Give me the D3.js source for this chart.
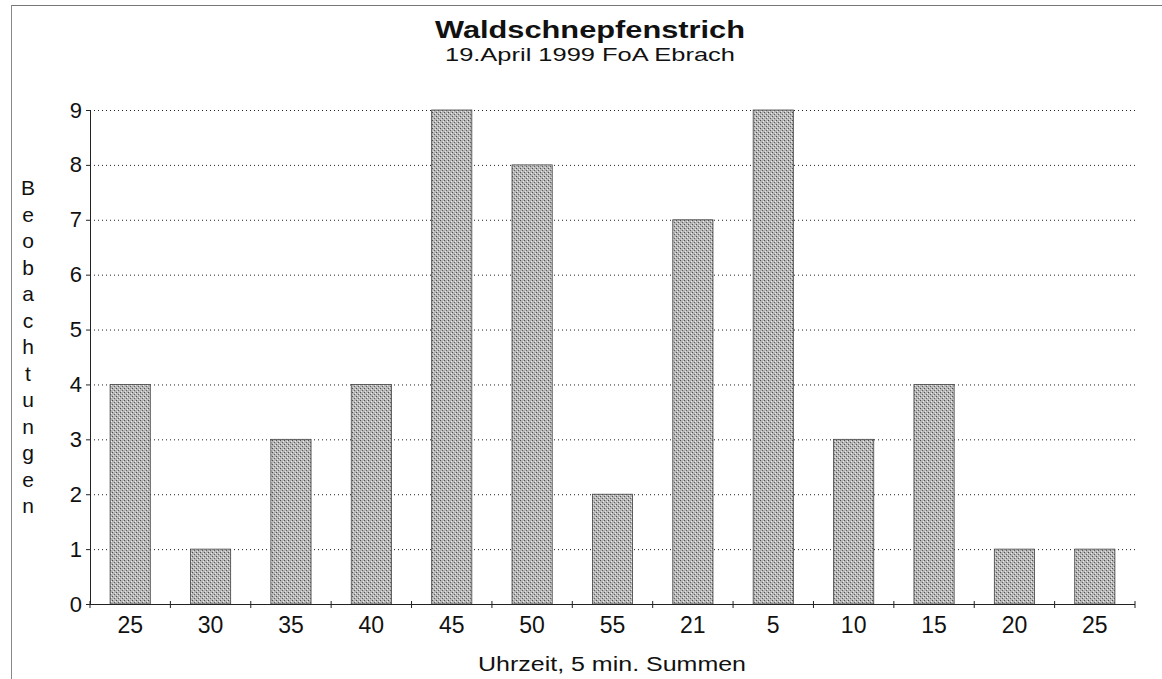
<!DOCTYPE html>
<html><head><meta charset="utf-8">
<script src="https://cdn.jsdelivr.net/npm/d3@7"></script>
<style>body{margin:0;background:#fff}svg{display:block}text{font-family:"Liberation Sans",Arial,sans-serif;fill:#111}</style>
</head><body>
<script>
const categories = ["25","30","35","40","45","50","55","21","5","10","15","20","25"];
const values = [4,1,3,4,9,8,2,7,9,3,4,1,1];
const yTicks = [0,1,2,3,4,5,6,7,8,9];
const title = "Waldschnepfenstrich";
const subtitle = "19.April 1999 FoA Ebrach";
const yLabel = "Beobachtungen";
const xLabel = "Uhrzeit, 5 min. Summen";

const W = 1162, H = 679;
const m = {left: 90, right: 27, top: 110, bottom: 75};
const svg = d3.select("body").append("svg").attr("width", W).attr("height", H);

const defs = svg.append("defs");
const pat = defs.append("pattern").attr("id","stip").attr("patternUnits","userSpaceOnUse").attr("width",4).attr("height",4);
pat.append("rect").attr("width",4).attr("height",4).attr("fill","#b5b5b5");
pat.append("rect").attr("x",0).attr("y",0).attr("width",1).attr("height",1).attr("fill","#505050");
pat.append("rect").attr("x",2).attr("y",2).attr("width",1).attr("height",1).attr("fill","#606060");
pat.append("rect").attr("x",3).attr("y",1).attr("width",1).attr("height",1).attr("fill","#eee");
pat.append("rect").attr("x",1).attr("y",3).attr("width",1).attr("height",1).attr("fill","#e4e4e4");

// outer frame fragments
svg.append("line").attr("x1",11).attr("x2",W).attr("y1",5.5).attr("y2",5.5).attr("stroke","#777").attr("stroke-width",1);
svg.append("line").attr("x1",11.5).attr("x2",11.5).attr("y1",5).attr("y2",H).attr("stroke","#888").attr("stroke-width",1);

const x = d3.scaleBand().domain(d3.range(categories.length)).range([m.left, W - m.right]).paddingInner(0.5).paddingOuter(0.25);
const y = d3.scaleLinear().domain([0,9]).range([H - m.bottom, m.top]);

// grid
svg.append("g").selectAll("line").data(yTicks.filter(d=>d>0)).join("line")
  .attr("x1", m.left).attr("x2", W - m.right)
  .attr("y1", d=>y(d)+0.5).attr("y2", d=>y(d)+0.5)
  .attr("stroke","#222").attr("stroke-width",1).attr("stroke-dasharray","1,3");

// bars
svg.append("g").selectAll("rect").data(values).join("rect")
  .attr("x",(d,i)=>x(i)).attr("width",x.bandwidth())
  .attr("y",d=>y(d)).attr("height",d=>y(0)-y(d))
  .attr("fill","url(#stip)").attr("stroke","#444").attr("stroke-width",0.8);

// y axis
const ya = svg.append("g").attr("transform",`translate(${m.left},0)`)
  .call(d3.axisLeft(y).tickValues(yTicks).tickSize(4).tickPadding(4).tickFormat(d3.format("d")));
ya.select(".domain").attr("stroke","#222");
ya.selectAll(".tick line").attr("stroke","#222");
ya.selectAll("text").attr("font-size",22).style("font-family","'Liberation Sans',Arial,sans-serif").attr("fill","#111");

// x axis
const boundaries = d3.range(categories.length+1).map(i => m.left + (W - m.left - m.right) * i / categories.length);
const xa = svg.append("g");
xa.append("line").attr("x1",m.left).attr("x2",W-m.right).attr("y1",y(0)+0.5).attr("y2",y(0)+0.5).attr("stroke","#222");
xa.selectAll("line.t").data(boundaries).join("line").attr("class","t")
  .attr("x1",d=>d).attr("x2",d=>d).attr("y1",y(0)-3).attr("y2",y(0)+4).attr("stroke","#222");
xa.selectAll("text").data(categories).join("text")
  .attr("x",(d,i)=>x(i)+x.bandwidth()/2).attr("y",y(0)+29)
  .attr("text-anchor","middle").attr("font-size",23).text(d=>d);

// titles
svg.append("text").attr("x",590).attr("y",38).attr("text-anchor","middle")
  .attr("font-size",23).attr("font-weight","bold")
  .attr("textLength",310).attr("lengthAdjust","spacingAndGlyphs").text(title);
svg.append("text").attr("x",590).attr("y",61).attr("text-anchor","middle")
  .attr("font-size",19).attr("textLength",290).attr("lengthAdjust","spacingAndGlyphs").text(subtitle);
svg.append("text").attr("x",612).attr("y",671).attr("text-anchor","middle")
  .attr("font-size",20).attr("textLength",268).attr("lengthAdjust","spacingAndGlyphs").text(xLabel);

// vertical y label
svg.append("g").selectAll("text").data(yLabel.split("")).join("text")
  .attr("x",28).attr("y",(d,i)=>195 + i*26.5).attr("text-anchor","middle")
  .attr("font-size",21).text(d=>d);
</script>
</body></html>
